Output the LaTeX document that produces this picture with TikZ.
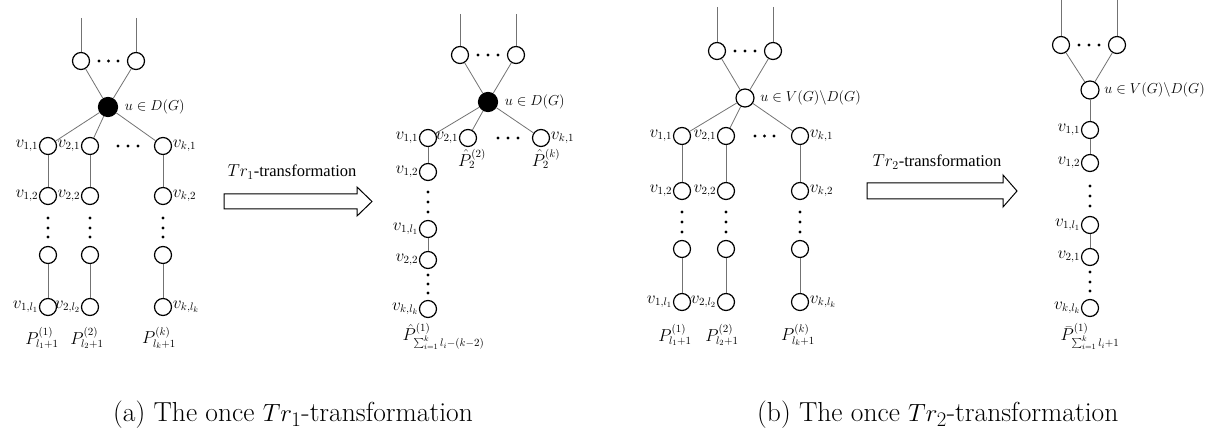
\documentclass[tikz,border=0pt]{standalone}
\usepackage{fontspec}
\newfontfamily\tnr{Liberation Serif}
\begin{document}
\begin{tikzpicture}[x=1pt,y=-1pt,
  vtx/.style={circle,draw,line width=1.2pt,minimum size=17pt,inner sep=0pt,fill=white},
  blk/.style={vtx,fill=black,minimum size=19pt},
  edg/.style={draw=black!55,line width=0.8pt},
  lbl/.style={font=\fontsize{16}{18}\selectfont,inner sep=0.5pt},
  ulbl/.style={font=\fontsize{15}{18}\selectfont,inner sep=0.5pt,anchor=west},
  trl/.style={font=\tnr\fontsize{16.5}{19}\selectfont,inner sep=0pt},
  captxt/.style={font=\fontsize{27.5}{32}\selectfont,inner sep=0pt},
  arr/.style={draw,line width=1pt,fill=white,line join=miter}]
\useasboundingbox (0,0) rectangle (1222,435);
\def\dotr{1.7}
%% ---------------- Panel 1 ----------------
\coordinate (a1t) at (81,18); \coordinate (a2t) at (136,18);
\node[vtx] (a1) at (81,61) {};
\node[vtx] (a2) at (136,61) {};
\node[blk] (au) at (108,107) {};
\foreach \x in {99,108.5,118} \fill (\x,61) circle (\dotr);
\node[vtx] (a11) at (48,146) {};
\node[vtx] (a21) at (90,146) {};
\node[vtx] (ak1) at (163,146) {};
\foreach \x in {118,128,138} \fill (\x,146) circle (\dotr);
\node[vtx] (a12) at (48,196) {};
\node[vtx] (a22) at (90,196) {};
\node[vtx] (ak2) at (163,196) {};
\foreach \x in {48,90,163} {\foreach \y in {218,228,237} \fill (\x,\y) circle (\dotr);}
\node[vtx] (a1m) at (48,255) {};
\node[vtx] (a2m) at (90,255) {};
\node[vtx] (akm) at (163,255) {};
\node[vtx] (a1l) at (48,307) {};
\node[vtx] (a2l) at (90,307) {};
\node[vtx] (akl) at (163,307) {};
\draw[edg] (a1t) -- (a1); \draw[edg] (a2t) -- (a2);
\draw[edg] (a1) -- (au); \draw[edg] (a2) -- (au);
\draw[edg] (au) -- (a11); \draw[edg] (au) -- (a21); \draw[edg] (au) -- (ak1);
\draw[edg] (a11) -- (a12); \draw[edg] (a21) -- (a22); \draw[edg] (ak1) -- (ak2);
\draw[edg] (a1m) -- (a1l); \draw[edg] (a2m) -- (a2l); \draw[edg] (akm) -- (akl);
\node[ulbl] (aul) at ([xshift=6pt]au.east) {$u\in D(G)$};
\node[lbl,anchor=east] (l_a11) at (a11.west) {$v_{1,1}$};
\node[lbl,anchor=east] (l_a21) at (a21.west) {$v_{2,1}$};
\node[lbl,anchor=west] (l_ak1) at (ak1.east) {$v_{k,1}$};
\node[lbl,anchor=east] (l_a12) at (a12.west) {$v_{1,2}$};
\node[lbl,anchor=east] (l_a22) at (a22.west) {$v_{2,2}$};
\node[lbl,anchor=west] (l_ak2) at (ak2.east) {$v_{k,2}$};
\node[lbl,anchor=east] (l_a1l) at (a1l.west) {$v_{1,l_1}$};
\node[lbl,anchor=east] (l_a2l) at (a2l.west) {$v_{2,l_2}$};
\node[lbl,anchor=west] (l_akl) at (akl.east) {$v_{k,l_k}$};
\node[lbl] (pa1) at (42,338) {$P^{(1)}_{l_1+1}$};
\node[lbl] (pa2) at (87,338) {$P^{(2)}_{l_2+1}$};
\node[lbl] (pak) at (159,338) {$P^{(k)}_{l_k+1}$};
%% arrow 1
\draw[arr] (224,194) -- (357,194) -- (357,187) -- (372,201.5) -- (357,216) -- (357,209) -- (224,209) -- cycle;
\node[trl] (tr1) at (292,172) {$Tr_1$-transformation};
%% ---------------- Panel 2 ----------------
\coordinate (b1t) at (460,14); \coordinate (b2t) at (516,14);
\node[vtx] (b1) at (460,55) {};
\node[vtx] (b2) at (516,55) {};
\node[blk] (bu) at (488,102) {};
\foreach \x in {478,488,498} \fill (\x,55) circle (\dotr);
\node[vtx] (b11) at (428,138) {};
\node[vtx] (b21) at (468,138) {};
\node[vtx] (bk1) at (541,138) {};
\foreach \x in {498,508,518} \fill (\x,138) circle (\dotr);
\node[vtx] (b12) at (428,172) {};
\foreach \y in {192,202,212} \fill (428,\y) circle (\dotr);
\node[vtx] (b1l) at (428,229) {};
\node[vtx] (b22) at (428,260) {};
\foreach \y in {275,284,293} \fill (428,\y) circle (\dotr);
\node[vtx] (bkl) at (428,309) {};
\draw[edg] (b1t) -- (b1); \draw[edg] (b2t) -- (b2);
\draw[edg] (b1) -- (bu); \draw[edg] (b2) -- (bu);
\draw[edg] (bu) -- (b11); \draw[edg] (bu) -- (b21); \draw[edg] (bu) -- (bk1);
\draw[edg] (b11) -- (b12); \draw[edg] (b1l) -- (b22);
\node[ulbl] (bul) at ([xshift=6pt]bu.east) {$u\in D(G)$};
\node[lbl,anchor=east] (l_b11) at (b11.west) {$v_{1,1}$};
\node[lbl,anchor=east] (l_b21) at (b21.west) {$v_{2,1}$};
\node[lbl,anchor=west] (l_bk1) at (bk1.east) {$v_{k,1}$};
\node[lbl] (ph2) at (472,159) {$\hat{P}_2^{(2)}$};
\node[lbl] (phk) at (546,159) {$\hat{P}_2^{(k)}$};
\node[lbl,anchor=east] (l_b12) at (b12.west) {$v_{1,2}$};
\node[lbl,anchor=east] (l_b1l) at (b1l.west) {$v_{1,l_1}$};
\node[lbl,anchor=east] (l_b22) at (b22.west) {$v_{2,2}$};
\node[lbl,anchor=east] (l_bkl) at (bkl.west) {$v_{k,l_k}$};
\node[lbl,anchor=north west] (ph1) at (402,323) {$\hat{P}^{(1)}_{\sum_{i=1}^{k} l_i-(k-2)}$};
%% ---------------- Panel 3 ----------------
\coordinate (c1t) at (717,7); \coordinate (c2t) at (773,7);
\node[vtx] (c1) at (717,51) {};
\node[vtx] (c2) at (773,51) {};
\node[vtx,minimum size=18pt] (cu) at (745,98) {};
\foreach \x in {735,745,755} \fill (\x,51) circle (\dotr);
\node[vtx] (c11) at (682,136) {};
\node[vtx] (c21) at (726,136) {};
\node[vtx] (ck1) at (800,136) {};
\foreach \x in {755,764.5,774} \fill (\x,136) circle (\dotr);
\node[vtx] (c12) at (682,191) {};
\node[vtx] (c22) at (726,191) {};
\node[vtx] (ck2) at (800,191) {};
\foreach \x in {682,726,800} {\foreach \y in {212,222,232} \fill (\x,\y) circle (\dotr);}
\node[vtx] (c1m) at (682,249) {};
\node[vtx] (c2m) at (726,249) {};
\node[vtx] (ckm) at (800,249) {};
\node[vtx] (c1l) at (682,302) {};
\node[vtx] (c2l) at (726,302) {};
\node[vtx] (ckl) at (800,302) {};
\draw[edg] (c1t) -- (c1); \draw[edg] (c2t) -- (c2);
\draw[edg] (c1) -- (cu); \draw[edg] (c2) -- (cu);
\draw[edg] (cu) -- (c11); \draw[edg] (cu) -- (c21); \draw[edg] (cu) -- (ck1);
\draw[edg] (c11) -- (c12); \draw[edg] (c21) -- (c22); \draw[edg] (ck1) -- (ck2);
\draw[edg] (c1m) -- (c1l); \draw[edg] (c2m) -- (c2l); \draw[edg] (ckm) -- (ckl);
\node[ulbl] (cul) at ([xshift=5pt]cu.east) {$u\in V(G)\backslash D(G)$};
\node[lbl,anchor=east] (l_c11) at (c11.west) {$v_{1,1}$};
\node[lbl,anchor=east] (l_c21) at (c21.west) {$v_{2,1}$};
\node[lbl,anchor=west] (l_ck1) at (ck1.east) {$v_{k,1}$};
\node[lbl,anchor=east] (l_c12) at (c12.west) {$v_{1,2}$};
\node[lbl,anchor=east] (l_c22) at (c22.west) {$v_{2,2}$};
\node[lbl,anchor=west] (l_ck2) at (ck2.east) {$v_{k,2}$};
\node[lbl,anchor=east] (l_c1l) at (c1l.west) {$v_{1,l_1}$};
\node[lbl,anchor=east] (l_c2l) at (c2l.west) {$v_{2,l_2}$};
\node[lbl,anchor=west] (l_ckl) at (ckl.east) {$v_{k,l_k}$};
\node[lbl] (pc1) at (675,335) {$P^{(1)}_{l_1+1}$};
\node[lbl] (pc2) at (722,335) {$P^{(2)}_{l_2+1}$};
\node[lbl] (pck) at (798,335) {$P^{(k)}_{l_k+1}$};
%% arrow 2
\draw[arr] (867,183) -- (1003,183) -- (1003,175) -- (1017,191) -- (1003,207) -- (1003,199) -- (867,199) -- cycle;
\node[trl] (tr2) at (937,162) {$Tr_2$-transformation};
%% ---------------- Panel 4 ----------------
\coordinate (d1t) at (1061,0); \coordinate (d2t) at (1117,0);
\node[vtx] (d1) at (1061,45) {};
\node[vtx] (d2) at (1117,45) {};
\node[vtx,minimum size=18pt] (du) at (1090,90) {};
\foreach \x in {1079,1089,1099} \fill (\x,45) circle (\dotr);
\node[vtx] (d11) at (1090,130) {};
\node[vtx] (d12) at (1090,163) {};
\foreach \y in {186,196,206} \fill (1090,\y) circle (\dotr);
\node[vtx] (d1l) at (1090,225) {};
\node[vtx] (d21) at (1090,257) {};
\foreach \y in {272,282,291} \fill (1090,\y) circle (\dotr);
\node[vtx] (dkl) at (1090,308) {};
\draw[edg] (d1t) -- (d1); \draw[edg] (d2t) -- (d2);
\draw[edg] (d1) -- (du); \draw[edg] (d2) -- (du);
\draw[edg] (du) -- (d11); \draw[edg] (d11) -- (d12); \draw[edg] (d1l) -- (d21);
\node[ulbl] (dul) at ([xshift=4pt]du.east) {$u\in V(G)\backslash D(G)$};
\node[lbl,anchor=east] (l_d11) at (d11.west) {$v_{1,1}$};
\node[lbl,anchor=east] (l_d12) at (d12.west) {$v_{1,2}$};
\node[lbl,anchor=east] (l_d1l) at (d1l.west) {$v_{1,l_1}$};
\node[lbl,anchor=east] (l_d21) at (d21.west) {$v_{2,1}$};
\node[lbl,anchor=east] (l_dkl) at (dkl.west) {$v_{k,l_k}$};
\node[lbl,anchor=north west] (pb1) at (1060,323) {$\bar{P}^{(1)}_{\sum_{i=1}^{k} l_i+1}$};
%% captions
\node[captxt,anchor=west] (capa) at (113,415) {(a)\ The once $Tr_1$-transformation};
\node[captxt,anchor=west] (capb) at (757,415) {(b)\ The once $Tr_2$-transformation};
\end{tikzpicture}
\end{document}
